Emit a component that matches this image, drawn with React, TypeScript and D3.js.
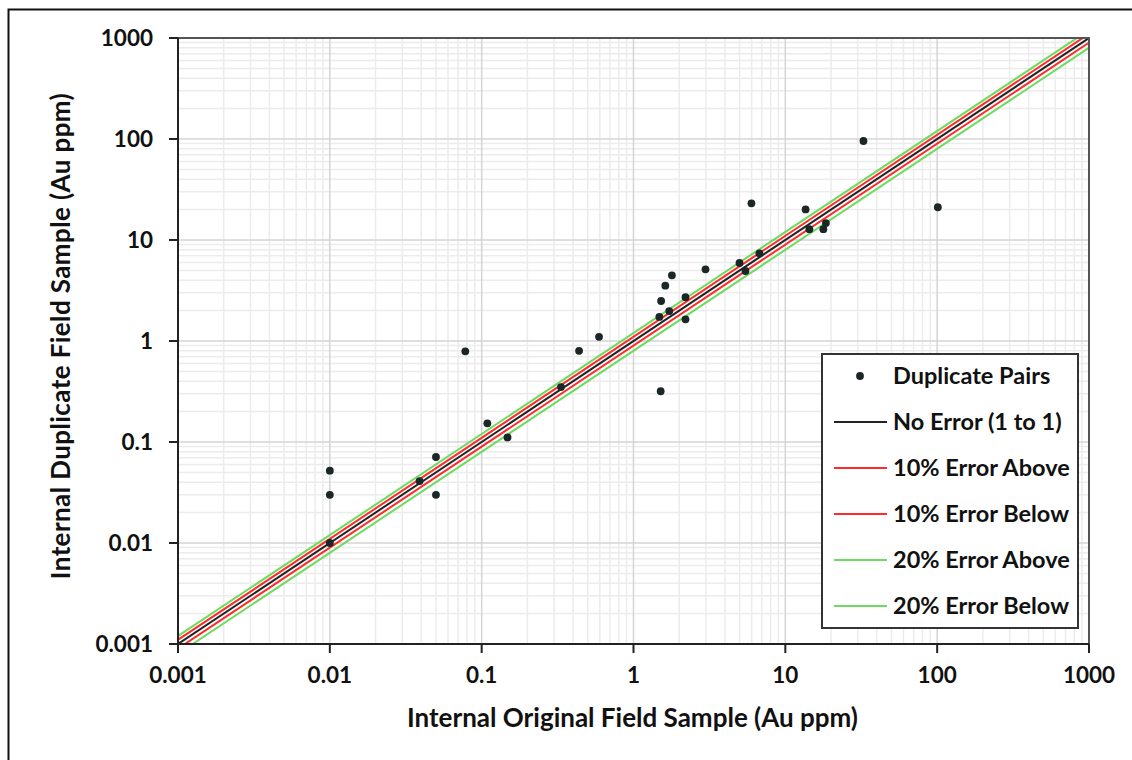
import React from "react";
import * as d3 from "d3";

const originalAu = [0.01, 0.01, 0.01, 0.039, 0.05, 0.05, 0.078, 0.109, 0.148, 0.333, 0.438, 0.593, 1.51, 1.48, 1.52, 1.62, 1.79, 1.72, 2.2, 2.2, 2.98, 4.99, 5.46, 6.75, 5.98, 13.6, 14.4, 17.8, 18.5, 32.7, 101];
const duplicateAu = [0.052, 0.03, 0.01, 0.041, 0.071, 0.03, 0.79, 0.153, 0.111, 0.35, 0.8, 1.1, 0.318, 1.73, 2.49, 3.53, 4.47, 1.98, 2.71, 1.64, 5.13, 5.92, 4.93, 7.38, 23.1, 20.1, 12.8, 12.8, 14.7, 95.5, 21.1];
const tickValues = [0.001, 0.01, 0.1, 1, 10, 100, 1000];
const tickLabels = ["0.001", "0.01", "0.1", "1", "10", "100", "1000"];
const lineNames = ["No Error (1 to 1)", "10% Error Above", "10% Error Below", "20% Error Above", "20% Error Below"];
const lineFactors = [1, 1.1, 0.9, 1.2, 0.8];
const lineColors = ["#222222", "#ff2a2a", "#ff2a2a", "#6cdb5e", "#6cdb5e"];

const W = 1132, H = 760;
const L = 178, R = 1089, T = 38, B = 644;
const FONT = "Lato, 'Open Sans', sans-serif";

export default function App() {
  const x = d3.scaleLog().domain([0.001, 1000]).range([L, R]);
  const y = d3.scaleLog().domain([0.001, 1000]).range([B, T]);
  const minor: number[] = [];
  for (let e = -3; e < 3; e++) for (let k = 2; k <= 9; k++) minor.push(k * Math.pow(10, e));
  const line = d3.line<number>().x(v => x(v)).y(v => y(v));
  const drawOrder = [3, 4, 1, 2, 0];
  const legendRows = ["Duplicate Pairs", ...lineNames];
  return (
    <svg width={W} height={H} style={{ position: "absolute", left: 0, top: 0 }} fontFamily={FONT}>
      <rect x={0} y={0} width={W} height={H} fill="#fff" />
      <rect x={8.5} y={9.5} width={W + 20} height={H + 20} fill="none" stroke="#111" strokeWidth={2} />
      <defs>
        <clipPath id="plot"><rect x={L} y={T} width={R - L} height={B - T} /></clipPath>
      </defs>
      {minor.map((v, i) => (
        <g key={"m" + i}>
          <line x1={x(v)} x2={x(v)} y1={T} y2={B} stroke="#ececec" strokeWidth={1.5} />
          <line x1={L} x2={R} y1={y(v)} y2={y(v)} stroke="#ececec" strokeWidth={1.5} />
        </g>
      ))}
      {tickValues.map((v, i) => (
        <g key={"M" + i}>
          <line x1={x(v)} x2={x(v)} y1={T} y2={B} stroke="#d4d4d4" strokeWidth={1.5} />
          <line x1={L} x2={R} y1={y(v)} y2={y(v)} stroke="#d4d4d4" strokeWidth={1.5} />
        </g>
      ))}
      <g clipPath="url(#plot)">
        {drawOrder.map(i => (
          <path key={"l" + i} d={line([0.0005, 2000]) as string}
            transform={`translate(0,${y(lineFactors[i]) - y(1)})`}
            fill="none" stroke={lineColors[i]} strokeWidth={2} />
        ))}
      </g>
      <rect x={L} y={T} width={R - L} height={B - T} fill="none" stroke="#555" strokeWidth={2} />
      <line x1={L} x2={L} y1={T} y2={B} stroke="#222" strokeWidth={2} />
      <line x1={L} x2={R} y1={B} y2={B} stroke="#222" strokeWidth={2} />
      {tickValues.map((v, i) => (
        <g key={"t" + i}>
          <line x1={x(v)} x2={x(v)} y1={B} y2={B + 9} stroke="#222" strokeWidth={2} />
          <line x1={L - 9} x2={L} y1={y(v)} y2={y(v)} stroke="#222" strokeWidth={2} />
          <text x={x(v)} y={B + 39} textAnchor="middle" fontSize={22.5} fontWeight="bold" fill="#111">{tickLabels[i]}</text>
          <text x={L - 25} y={y(v) + 8} textAnchor="end" fontSize={22.5} fontWeight="bold" fill="#111">{tickLabels[i]}</text>
        </g>
      ))}
      {originalAu.map((v, i) => (
        <circle key={"p" + i} cx={x(v)} cy={y(duplicateAu[i])} r={3.9} fill="#1b2626" />
      ))}
      <text x={(L + R) / 2 - 1} y={727} textAnchor="middle" fontSize={26} fontWeight="bold" fill="#111">Internal Original Field Sample (Au ppm)</text>
      <text transform={`translate(70,${(T + B) / 2 - 5}) rotate(-90)`} textAnchor="middle" fontSize={26} fontWeight="bold" letterSpacing={0.4} fill="#111">Internal Duplicate Field Sample (Au ppm)</text>
      <g>
        <rect x={822} y={354} width={256} height={274} fill="#fff" stroke="#333" strokeWidth={2} />
        {legendRows.map((name, i) => {
          const ry = 376 + i * 46;
          return (
            <g key={"lg" + i}>
              {i === 0
                ? <circle cx={860} cy={ry} r={3.9} fill="#1b2626" />
                : <line x1={834} x2={887} y1={ry} y2={ry} stroke={lineColors[i - 1]} strokeWidth={2} />}
              <text x={893} y={ry + 8} fontSize={23.5} fontWeight="bold" fill="#111">{name}</text>
            </g>
          );
        })}
      </g>
    </svg>
  );
}
